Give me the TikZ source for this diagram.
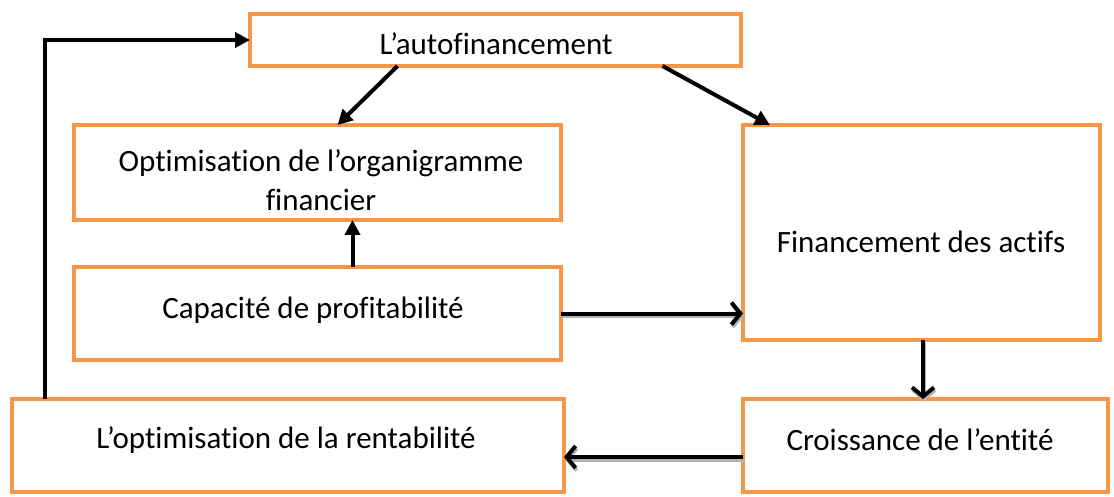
\documentclass[tikz,border=0pt]{standalone}
\usepackage{fontspec}
\setmainfont{Carlito}[Ligatures=NoCommon]
\usetikzlibrary{arrows.meta}
\definecolor{boxorange}{HTML}{F79646}
\begin{document}
\begin{tikzpicture}[x=1pt,y=-1pt,
  box/.style={draw=boxorange, line width=4pt, inner sep=0pt, outer sep=0pt},
  lbl/.style={font=\fontsize{31}{39}\selectfont, align=center, inner sep=0pt},
  link/.style={line width=4pt, -{Triangle[length=15pt,width=15pt]}},
  barb/.style={line width=4pt, -{Straight Barb[length=9pt,width=22pt,line width=4pt]}},
  barbshadow/.style={barb, draw=gray!60, transform canvas={xshift=1pt,yshift=-2.5pt}}]
\useasboundingbox (0,0) rectangle (1114,497);

% boxes
\node[box, minimum width=491pt, minimum height=52pt] (auto)   at (495.5,40)    {};
\node[box, minimum width=487pt, minimum height=95pt] (opt)    at (317.5,172.5) {};
\node[box, minimum width=357pt, minimum height=215pt] (fin)   at (921.5,232.5) {};
\node[box, minimum width=487pt, minimum height=93pt] (cap)    at (317.5,313.5) {};
\node[box, minimum width=552pt, minimum height=93pt] (rent)   at (288,445.5)   {};
\node[box, minimum width=365pt, minimum height=93pt] (croiss) at (925.5,445.5) {};

% labels
\node[lbl] (autoT)   at (496,44)  {L’autofinancement};
\node[lbl] (optT)    at (321,180) {Optimisation de l’organigramme\\financier};
\node[lbl] (finT)    at (921,242) {Financement des actifs};
\node[lbl] (capT)    at (313,310) {Capacité de profitabilité};
\node[lbl] (rentT)   at (286,440) {L’optimisation de la rentabilité};
\node[lbl] (croissT) at (920,440) {Croissance de l’entité};

% connectors
\draw[link] ([xshift=33pt]rent.north west) |- (auto.west);
\draw[link] ([xshift=-98pt]auto.south) -- ([xshift=20pt]opt.north);
\draw[link] ([xshift=167pt]auto.south) -- ([xshift=27pt]fin.north west);
\draw[link] ([xshift=35pt]cap.north) -- ([xshift=35pt]opt.south);

\draw[barbshadow] (cap.east) -- (cap.east -| fin.west);
\draw[barb] (cap.east) -- (cap.east -| fin.west);
\draw[barbshadow] ([xshift=1.5pt]fin.south) -- ([xshift=1.5pt]fin.south |- croiss.north);
\draw[barb] ([xshift=1.5pt]fin.south) -- ([xshift=1.5pt]fin.south |- croiss.north);
\draw[barbshadow] ([yshift=-11.5pt]croiss.west) -- ([yshift=-11.5pt]croiss.west -| rent.east);
\draw[barb] ([yshift=-11.5pt]croiss.west) -- ([yshift=-11.5pt]croiss.west -| rent.east);
\end{tikzpicture}
\end{document}
